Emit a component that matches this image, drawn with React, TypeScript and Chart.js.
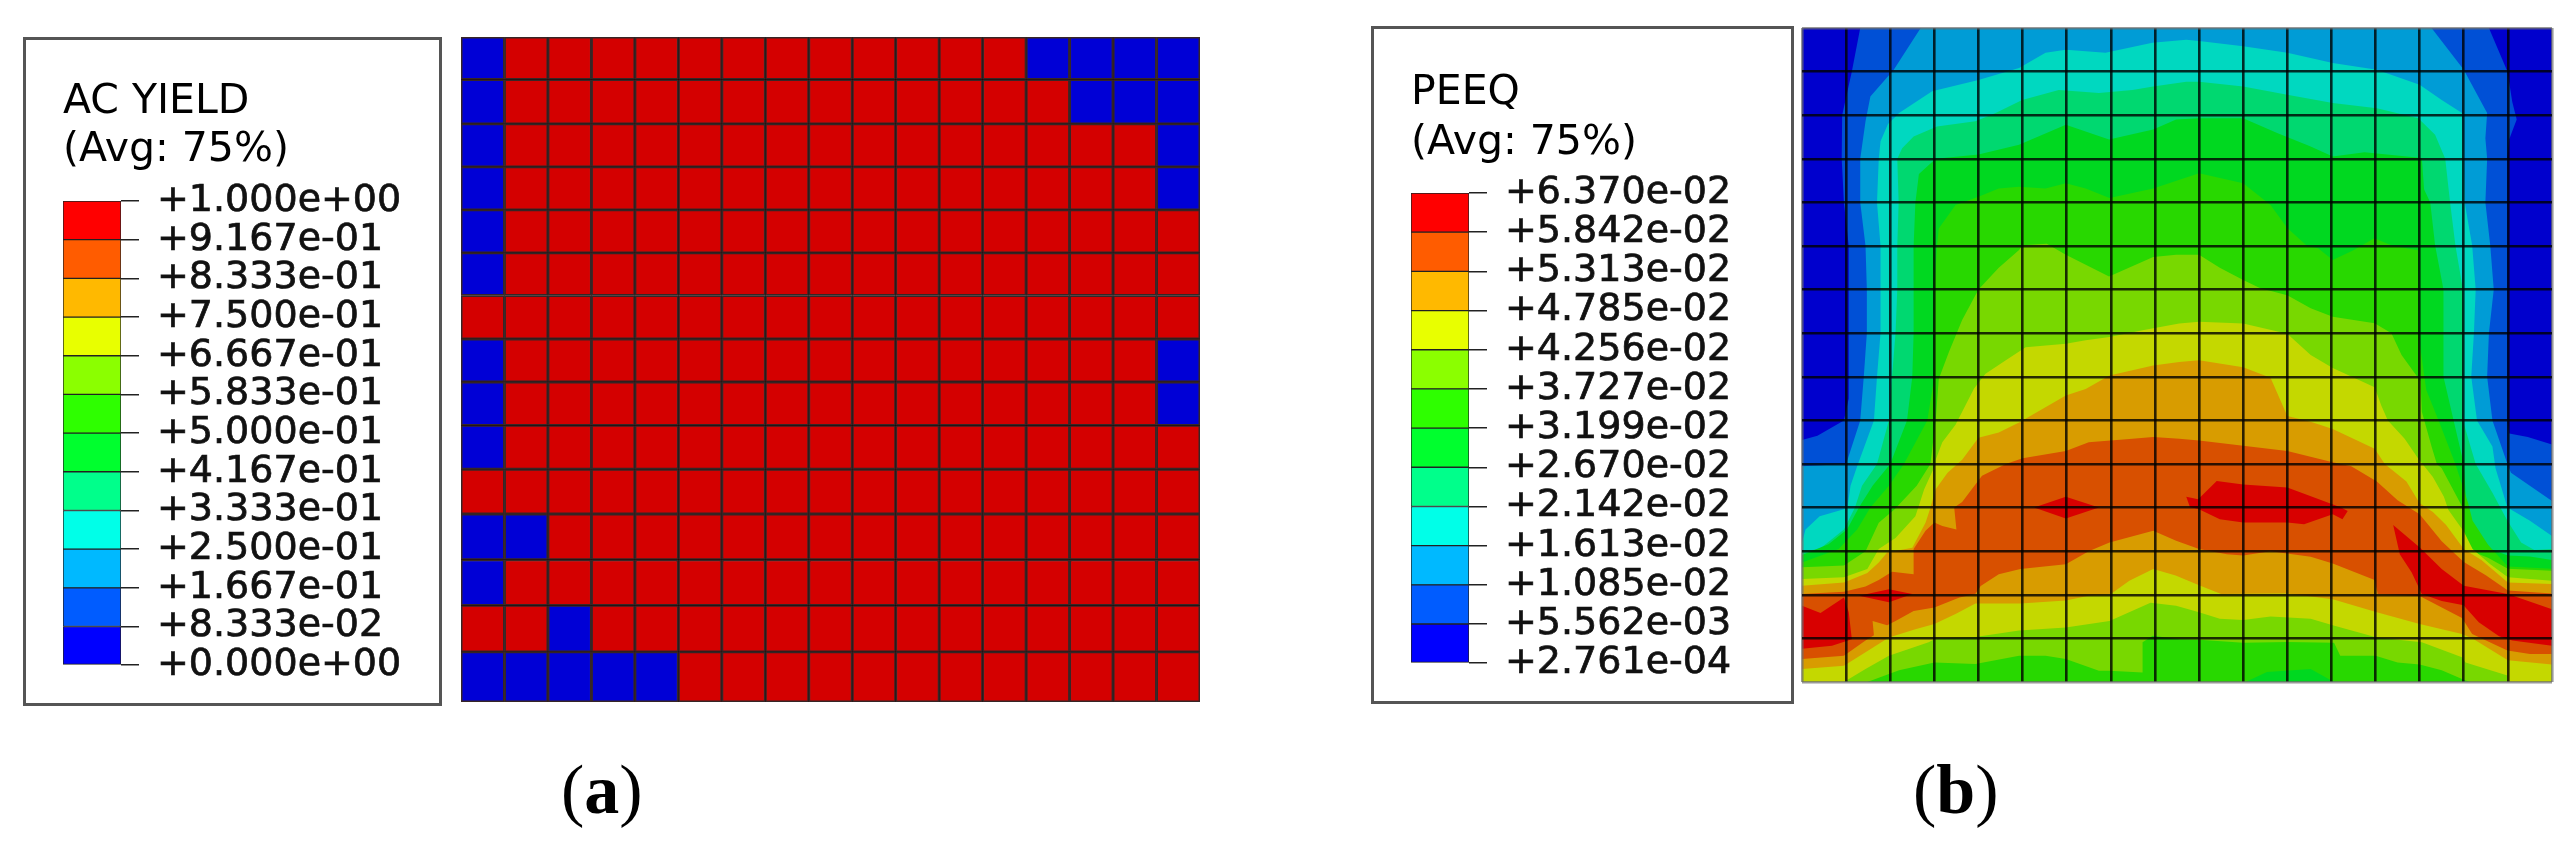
import React, { useEffect, useRef } from "react";
import { Chart, registerables } from "chart.js";

Chart.register(...registerables);

// ---------- data ----------
const yieldLabels = ["+1.000e+00","+9.167e-01","+8.333e-01","+7.500e-01","+6.667e-01","+5.833e-01","+5.000e-01","+4.167e-01","+3.333e-01","+2.500e-01","+1.667e-01","+8.333e-02","+0.000e+00"];
const peeqLabels = ["+6.370e-02","+5.842e-02","+5.313e-02","+4.785e-02","+4.256e-02","+3.727e-02","+3.199e-02","+2.670e-02","+2.142e-02","+1.613e-02","+1.085e-02","+5.562e-03","+2.761e-04"];
const legendColors = ["#0000ff","#005cff","#00b9ff","#00ffe8","#00ff8b","#00ff2e","#2eff00","#8bff00","#e8ff00","#ffb900","#ff5c00","#ff0000"];
const shadedColors = ["#0000cd","#0050d6","#009cd6","#00d8c0","#00d870","#00d820","#28d800","#78d800","#c4d800","#d89c00","#d85000","#d80000"];

const columns = ["1","2","3","4","5","6","7","8","9","10","11","12","13","14","15","16","17"];
const rowEdges = [0,.96,1.96,2.93,3.9,4.87,5.83,6.81,7.78,8.76,9.75,10.76,11.79,12.82,13.87,15];
const acYield = [
  [0,1,1,1,1,1,1,1,1,1,1,1,1,0,0,0,0],
  [0,1,1,1,1,1,1,1,1,1,1,1,1,1,0,0,0],
  [0,1,1,1,1,1,1,1,1,1,1,1,1,1,1,1,0],
  [0,1,1,1,1,1,1,1,1,1,1,1,1,1,1,1,0],
  [0,1,1,1,1,1,1,1,1,1,1,1,1,1,1,1,1],
  [0,1,1,1,1,1,1,1,1,1,1,1,1,1,1,1,1],
  [1,1,1,1,1,1,1,1,1,1,1,1,1,1,1,1,1],
  [0,1,1,1,1,1,1,1,1,1,1,1,1,1,1,1,0],
  [0,1,1,1,1,1,1,1,1,1,1,1,1,1,1,1,0],
  [0,1,1,1,1,1,1,1,1,1,1,1,1,1,1,1,1],
  [1,1,1,1,1,1,1,1,1,1,1,1,1,1,1,1,1],
  [0,0,1,1,1,1,1,1,1,1,1,1,1,1,1,1,1],
  [0,1,1,1,1,1,1,1,1,1,1,1,1,1,1,1,1],
  [1,1,0,1,1,1,1,1,1,1,1,1,1,1,1,1,1],
  [0,0,0,0,0,1,1,1,1,1,1,1,1,1,1,1,1],
];

// PEEQ contour regions, each "value at or above this band", in element units
const band0 = [[0,0],[17,0],[17,15],[0,15]];
const band1 = [[1.32,0],[15.57,0],[15.99,1],[16.1,1.7],[16.2,2.1],[16.03,2.55],[15.99,3],[15.99,9],[16.03,9.3],[16.45,9.38],[17,9.55],[17,15],[0,15],[0,9.45],[.35,9.35],[.95,9],[1.06,8.5],[1.06,5],[.95,4],[.9,3],[.91,2],[1.13,1]];
const band2 = [[2.69,0],[14.27,0],[15,.96],[15.53,1.95],[15.49,2.53],[15.53,3],[15.49,4],[15.6,4.98],[15.68,6],[15.57,7],[15.53,8],[15.65,9],[15.99,10],[16.07,10.2],[17,10.85],[17,15],[0,15],[0,10.05],[1,10],[1.32,9],[1.4,8],[1.47,7],[1.47,6],[1.44,5],[1.32,4],[1.32,3],[1.44,2.14],[1.55,1.57],[2.08,.96]];
const band3 = [[2.2,1.95],[2.95,1.45],[4,1.19],[4.92,.92],[5.52,.57],[5.98,.5],[6.88,.57],[7.94,.34],[8.71,.27],[9,.3],[10,.42],[11,.57],[12.03,.8],[13.03,.96],[14,1.3],[14.5,1.65],[14.96,1.95],[15,3],[15.02,4],[15.19,4.98],[15.27,6],[15.23,7],[15.17,8],[15.3,9],[15.65,9.6],[15.72,10.1],[15.99,11],[16.5,11.3],[17,11.65],[17,15],[0,15],[0,11.8],[.08,11.5],[.4,11.2],[.95,11.04],[1.03,11],[1.1,10.5],[1.25,10.05],[1.63,9],[1.7,8],[1.78,7],[1.78,5],[1.7,4],[1.74,3],[1.78,2.6],[1.95,2.2]];
const band4 = [[2.53,2.49],[3.06,2.26],[3.93,2.14],[4.39,1.95],[4.99,1.65],[5.82,1.42],[6.73,1.49],[7.49,1.42],[7.96,1.34],[8.71,1.23],[9,1.23],[10,1.34],[11,1.53],[12.03,1.72],[13.03,1.84],[13.97,2.07],[14.35,2.45],[14.58,3],[14.69,4],[14.81,4.98],[14.98,6],[15,7],[14.98,8],[14.98,9],[15.27,10],[15.65,10.66],[15.99,11.3],[16.3,11.8],[16.6,11.97],[17,11.95],[17,15],[0,15],[0,12],[.4,11.95],[.95,11.5],[1.2,11],[1.36,10.5],[1.7,10],[1.97,9],[2.04,8],[2.12,7],[2.16,6],[2.16,5],[2.19,4],[2.16,3],[2.27,2.76]];
const band5 = [[3.03,3],[4,2.9],[4.92,2.68],[5.98,2.22],[6.96,2.56],[7.96,2.33],[8.48,2.1],[9,2.07],[10,2.07],[10.77,2.41],[11.53,2.72],[12.03,2.95],[12.75,2.85],[14.05,2.98],[14.1,3.7],[14.24,4],[14.35,4.98],[14.54,6],[14.54,8],[14.77,9],[15,10],[15.05,10.8],[15.1,11.2],[15.6,11.95],[16,12.1],[16.5,12.12],[17,12.2],[17,15],[0,15],[0,12.09],[.6,11.84],[1.02,11.5],[1.29,11],[1.6,10.5],[2,10],[2.38,9],[2.5,8],[2.53,7],[2.53,5],[2.57,4],[2.65,3.35]];
const band6 = [[3.06,5],[3.1,4.6],[3.48,4.06],[4,3.87],[4.46,3.68],[4.92,3.64],[5.52,3.68],[5.98,3.56],[6.43,3.68],[6.97,3.9],[7.96,3.68],[9,3.33],[10,3.56],[10.62,4.06],[11,4.59],[11.45,5],[11.7,5.05],[12.03,5.32],[12.5,5.1],[12.97,4.82],[13.4,5],[13.97,5.1],[13.97,7],[14.15,8.3],[14.43,9],[14.81,10],[15.1,10.9],[15.2,11.3],[15.55,11.85],[16,12.35],[17,12.4],[17,15],[12.06,15],[11.53,14.7],[10.54,14.77],[10.05,15],[0,15],[0,12.26],[.83,11.95],[1.25,11.5],[1.55,11],[1.97,10.5],[2.31,10],[2.84,9],[3,8],[3,6]];
const band7 = [[4,6],[4.46,5.5],[4.92,5.09],[5,4.98],[5.55,4.95],[5.98,5.2],[6.96,5.7],[7.96,5.25],[8.48,5.2],[9,5.2],[9.47,5.5],[10,5.78],[10.39,5.97],[11,6.13],[11.53,6.43],[12.03,6.62],[12.98,6.77],[13.36,7],[13.59,7.5],[14.02,8.1],[14.05,8.8],[14.27,9.6],[14.39,10],[14.5,10.1],[14.95,10.95],[15,11.4],[15.05,11.95],[15.55,12.15],[16,12.4],[17,12.45],[17,15],[15.15,15],[15,14.95],[14.5,14.73],[14,14.6],[13.5,14.55],[13,14.4],[12.2,14.4],[12.06,14.1],[11,14.08],[10,14.1],[9,14.03],[8.55,14.02],[7.95,13.94],[7.72,14.09],[7.72,14.78],[6.96,14.74],[6.73,14.74],[5.98,14.47],[5.52,14.4],[4.92,14.4],[3.93,14.59],[3,14.55],[2.2,14.73],[1.48,15],[0,15],[0,12.37],[.95,12.33],[1.44,12],[1.74,11.35],[2.1,11.04],[2.6,10.5],[2.91,10],[3.03,9],[3.1,8.05],[3.33,7.43],[3.63,6.7]];
const band8 = [[3.03,9.9],[3.18,9.5],[3.48,9.1],[3.9,8.27],[4.16,7.93],[4.62,7.62],[5.07,7.32],[5.98,7.24],[6.43,7.16],[6.97,7.09],[7.72,6.93],[8.55,6.78],[9,6.74],[10,6.78],[11,7.01],[11.53,7.5],[12.03,7.8],[12.98,8.24],[13.13,8.66],[13.28,9],[13.66,9.42],[13.97,9.88],[14.3,10.3],[14.55,10.75],[14.65,11.05],[15,11.55],[15.2,11.95],[15.6,12.3],[16,12.6],[17,12.68],[17,15],[16,15],[15.99,14.85],[15.04,14.55],[14.96,14.43],[14.05,14.09],[13.03,13.98],[12.03,13.7],[11.53,13.55],[10.62,13.5],[10,13.58],[9.47,13.55],[9,13.4],[8.48,13.25],[7.9,13.18],[6.97,13.6],[5.98,13.75],[4.92,13.82],[3.93,13.97],[3.03,14],[2.87,14.09],[1.97,14.4],[1.44,14.7],[.95,15],[0,15],[0,12.64],[.95,12.6],[1.48,12.41],[1.74,11.95],[2.12,11.7],[2.57,11.2],[2.77,10.58],[3.03,10]];
const band9 = [[3.63,9.9],[4,9.4],[4.46,9.28],[4.92,9.05],[5.98,8.43],[6.43,8.28],[6.97,7.97],[7.96,7.74],[8.55,7.66],[9,7.62],[10,7.78],[10.62,8.02],[11,8.9],[11.53,9.03],[12.03,9.2],[12.98,9.65],[13.21,10],[13.7,10.4],[14,10.9],[14.3,11.1],[14.6,11.4],[15,11.95],[15.4,12.2],[16,12.72],[17,12.75],[17,14.6],[16,14.5],[15.2,14],[14.96,13.9],[14,13.67],[13.03,13.4],[12.03,13.1],[11,12.97],[9.5,12.98],[9,12.78],[8.47,12.56],[7.96,12.41],[7.42,12.68],[7,12.98],[6.5,13.02],[5.98,13.13],[4.95,13.2],[3.93,13.2],[3.48,13.44],[3,13.67],[2.57,13.79],[1.97,13.98],[1.44,14.32],[.95,14.63],[0,14.7],[0,12.79],[.95,12.72],[1.48,12.5],[1.74,12.26],[1.93,12.03],[2.5,11.92],[2.8,11.35],[2.9,11.04],[3.03,10.58],[3.3,10.2]];
const band10 = [[4.62,10],[5,9.87],[5.98,9.7],[6.5,9.5],[7.49,9.42],[7.96,9.38],[8.55,9.42],[9,9.46],[10,9.58],[11,9.7],[12.03,9.96],[12.45,10.05],[13.03,10.4],[13.5,10.83],[14,11.15],[14.5,11.77],[15,12.25],[15.5,12.55],[16,12.9],[17,12.97],[17,14.36],[16.5,14.36],[15.99,14.28],[15.19,13.9],[14.96,13.53],[14,13.03],[13.05,12.98],[12.98,12.66],[12.03,12.28],[11.53,12.13],[10.62,12],[10,12.1],[9.63,12.07],[9,11.95],[8.48,11.76],[7.96,11.53],[6.97,11.8],[6.5,12],[5.98,12.3],[4.95,12.41],[4.46,12.53],[4.05,12.8],[3.93,12.98],[3.57,13.06],[3,13.29],[2.53,13.37],[2.12,13.6],[1.93,13.7],[1.6,13.6],[1.63,13.93],[1.44,14.05],[.95,14.4],[0,14.47],[0,12.98],[.95,12.93],[1.44,12.81],[1.74,12.66],[2.04,12.47],[2.53,12.53],[2.53,11.95],[2.8,11.53],[3,11.34],[3.18,11.42],[3.5,11.5],[3.45,11],[3.63,10.87],[4.08,10.27]];
const peak1 = [[5.26,11],[5.98,10.75],[6.73,11],[5.98,11.25]];
const peak2 = [[8.71,10.75],[8.98,10.81],[9.4,10.39],[10,10.47],[11,10.54],[12.22,11],[12.37,11.08],[12.25,11.27],[12.03,11.15],[11.38,11.38],[11,11.34],[10,11.34],[9.47,11.27],[9,11.04],[8.79,10.98]];
const peak3 = [[13.4,11.4],[14.01,11.92],[14.5,12.41],[15,12.79],[16,12.98],[17,13.33],[17,14.17],[16.1,14.05],[15.8,13.95],[15.34,13.63],[15.04,13.29],[15,13.24],[14.5,13.14],[14.05,12.98],[13.82,12.49],[13.55,12.07]];
const peak4 = [[0,13.25],[.42,13.42],[.95,13.06],[1.06,13.4],[1.13,14.02],[.68,14.17],[0,14.24]];
const peak5 = [[1.29,13.02],[1.97,12.87],[2.5,12.98],[1.97,13.17]];

const contourRegions = [
  { points: band0, band: 0 }, { points: band1, band: 1 }, { points: band2, band: 2 }, { points: band3, band: 3 },
  { points: band4, band: 4 }, { points: band5, band: 5 }, { points: band6, band: 6 }, { points: band7, band: 7 },
  { points: band8, band: 8 }, { points: band9, band: 9 }, { points: band10, band: 10 },
  { points: peak1, band: 11 }, { points: peak2, band: 11 }, { points: peak3, band: 11 }, { points: peak4, band: 11 }, { points: peak5, band: 11 },
];

// ---------- chart configs ----------
const FONT = "'DejaVu Sans'";
const INK = "#111";

function legendConfig(title: string[], labels: string[], r: any) {
  return {
    type: "bar",
    data: {
      labels: ["scale"],
      datasets: legendColors.map((c, i) => ({
        data: [[i, i + 1]],
        backgroundColor: c,
        borderColor: "#222",
        borderWidth: 1,
        borderSkipped: false,
        grouped: false,
        barPercentage: 1,
        categoryPercentage: 1,
      })),
    },
    options: {
      responsive: false,
      animation: false,
      events: [],
      layout: { padding: { left: 40, right: 0, top: 0, bottom: r.bottom } },
      plugins: {
        legend: { display: false },
        tooltip: { enabled: false },
        title: {
          display: true,
          text: title,
          align: "start",
          color: "#000",
          font: { family: FONT, size: 41, lineHeight: r.lineHeight, weight: "normal" },
          padding: { top: r.titleTop, bottom: r.titleBottom },
        },
      },
      scales: {
        x: { display: false },
        y: {
          position: "right",
          min: 0,
          max: 12,
          afterFit: (s: any) => { s.width = r.axisWidth; },
          border: { display: false },
          grid: { drawOnChartArea: false, tickLength: 18, color: "#222", lineWidth: 1.5 },
          ticks: {
            stepSize: 1,
            autoSkip: false,
            padding: 18,
            color: INK,
            textStrokeColor: INK,
            textStrokeWidth: 0.7,
            font: { family: FONT, size: 38 },
            callback: (v: number) => labels[12 - v],
          },
        },
      },
    },
  };
}

const yieldMeshConfig: any = {
  type: "bar",
  data: {
    labels: columns,
    datasets: acYield.map((row, r) => ({
      data: row.map(() => [rowEdges[r], rowEdges[r + 1]]),
      backgroundColor: row.map((v) => (v === 1 ? "#d40000" : "#0000d6")),
      borderColor: "rgba(20,0,0,0.85)",
      borderWidth: 1.8,
      borderSkipped: false,
      grouped: false,
      barPercentage: 1,
      categoryPercentage: 1,
    })),
  },
  options: {
    responsive: false,
    animation: false,
    events: [],
    layout: { padding: 3 },
    plugins: { legend: { display: false }, tooltip: { enabled: false } },
    scales: {
      x: { display: false },
      y: { display: false, min: 0, max: 15, reverse: true },
    },
  },
};

const meshGrid = (last: number) => ({
  z: 1,
  drawTicks: false,
  lineWidth: 2.6,
  color: (c: any) => (c.tick.value === 0 || c.tick.value === last ? "rgba(110,110,110,0.7)" : "rgba(0,0,0,0.8)"),
});

const contourConfig: any = {
  type: "scatter",
  data: {
    datasets: contourRegions.map((reg, i) => ({
      data: reg.points.map(([x, y]) => ({ x, y })),
      showLine: true,
      fill: "shape",
      backgroundColor: shadedColors[reg.band],
      borderWidth: 0,
      pointRadius: 0,
      tension: 0,
      order: contourRegions.length - i,
    })),
  },
  options: {
    responsive: false,
    animation: false,
    events: [],
    layout: { padding: 3 },
    plugins: { legend: { display: false }, tooltip: { enabled: false } },
    scales: {
      x: { type: "linear", min: 0, max: 17, border: { display: false }, ticks: { display: false, stepSize: 1 }, grid: meshGrid(17) },
      y: { type: "linear", min: 0, max: 15, reverse: true, border: { display: false }, ticks: { display: false, stepSize: 1 }, grid: meshGrid(15) },
    },
  },
};

// ---------- components ----------
function ChartCanvas({ config, left, top, width, height, blur }: any) {
  const ref = useRef<HTMLCanvasElement | null>(null);
  useEffect(() => {
    const chart = new Chart(ref.current as HTMLCanvasElement, config);
    return () => chart.destroy();
  }, [config]);
  return (
    <canvas
      ref={ref}
      width={width}
      height={height}
      style={{ position: "absolute", left, top, width, height, filter: `blur(${blur}px)` }}
    />
  );
}

function Box({ left, top, width, height }: any) {
  return (
    <div style={{ position: "absolute", left, top, width, height, boxSizing: "border-box", border: "3px solid #555", background: "#fff" }} />
  );
}

function Caption({ letter, left }: any) {
  return (
    <div style={{ position: "absolute", left, top: 750, fontFamily: "'Liberation Serif'", fontSize: 70, lineHeight: "80px", color: "#000", whiteSpace: "nowrap" }}>
      (<b>{letter}</b>)
    </div>
  );
}

const yieldLegend = legendConfig(["AC YIELD", "(Avg: 75%)"], yieldLabels, { bottom: 38, lineHeight: 48 / 41, titleTop: 41, titleBottom: 27, axisWidth: 321 });
const peeqLegend = legendConfig(["PEEQ", "(Avg: 75%)"], peeqLabels, { bottom: 39, lineHeight: 50 / 41, titleTop: 42, titleBottom: 25, axisWidth: 325 });

export default function App() {
  return (
    <div style={{ position: "absolute", left: 0, top: 0, width: 2572, height: 845, overflow: "hidden", background: "#fff" }}>
      <Box left={23} top={37} width={419} height={669} />
      <ChartCanvas config={yieldLegend} left={23} top={37} width={419} height={669} blur={0.6} />
      <ChartCanvas config={yieldMeshConfig} left={458} top={34} width={745} height={671} blur={0.6} />
      <Box left={1371} top={26} width={423} height={678} />
      <ChartCanvas config={peeqLegend} left={1371} top={26} width={423} height={678} blur={0.6} />
      <ChartCanvas config={contourConfig} left={1799} top={25} width={756} height={660} blur={0.6} />
      <Caption letter="a" left={561} />
      <Caption letter="b" left={1913} />
    </div>
  );
}
